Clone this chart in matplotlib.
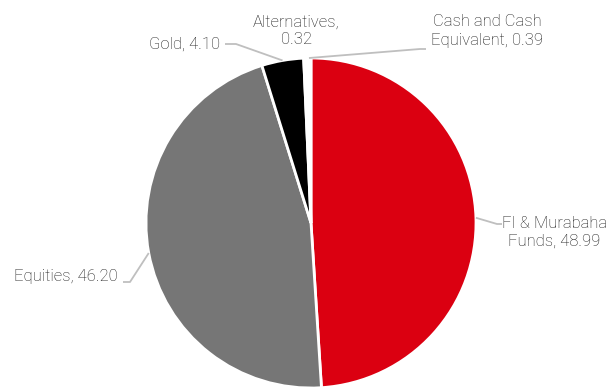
import numpy as np
import matplotlib
matplotlib.use('Agg')
import matplotlib.pyplot as plt

labels = ['FI & Murabaha\nFunds, 48.99', 'Equities, 46.20', 'Gold, 4.10',
          'Alternatives,\n0.32', 'Cash and Cash\nEquivalent, 0.39']
values = [48.99, 46.20, 4.10, 0.32, 0.39]
colors = ['#DB0011', '#767676', '#000000', '#FFFFFF', '#FFFFFF']

W, H = 611, 387
cx, cy, r = 311, H - 223, 165

fig = plt.figure(figsize=(W / 100, H / 100), dpi=100)
ax = fig.add_axes([0, 0, 1, 1])

wedges, _ = ax.pie(values, colors=colors, startangle=90, counterclock=False,
                   center=(cx, cy), radius=r, frame=True,
                   wedgeprops=dict(edgecolor='white', linewidth=2))
ax.set_xlim(0, W)
ax.set_ylim(0, H)
ax.set_aspect('equal')
ax.axis('off')

# label text positions (pixels, y from top) and leader elbows
txt = [(502, 232, 'left'), (118, 276, 'right'), (220, 44, 'right'),
       (296, 31, 'center'), (487, 31, 'center')]
elbow = [[(497, 224), (502, 224)], [(130, 282), (123, 282)],
         [(236, 44), (225, 44)], None, [(420, 49), (426, 49)]]

for w, lab, (tx, ty, ha), el in zip(wedges, labels, txt, elbow):
    mid = np.deg2rad((w.theta1 + w.theta2) / 2)
    px, py = cx + r * np.cos(mid), cy + r * np.sin(mid)
    if el is not None:
        xs = [px] + [p[0] for p in el]
        ys = [py] + [H - p[1] for p in el]
        ax.plot(xs, ys, color='#BFBFBF', lw=1.3, solid_capstyle='butt')
    ax.text(tx, H - ty, lab, ha=ha, va='center', fontsize=12,
            family='Roboto', fontweight='light', color='#1A1A1A',
            linespacing=1.25, multialignment='center')

fig.savefig('out.png', dpi=100)
